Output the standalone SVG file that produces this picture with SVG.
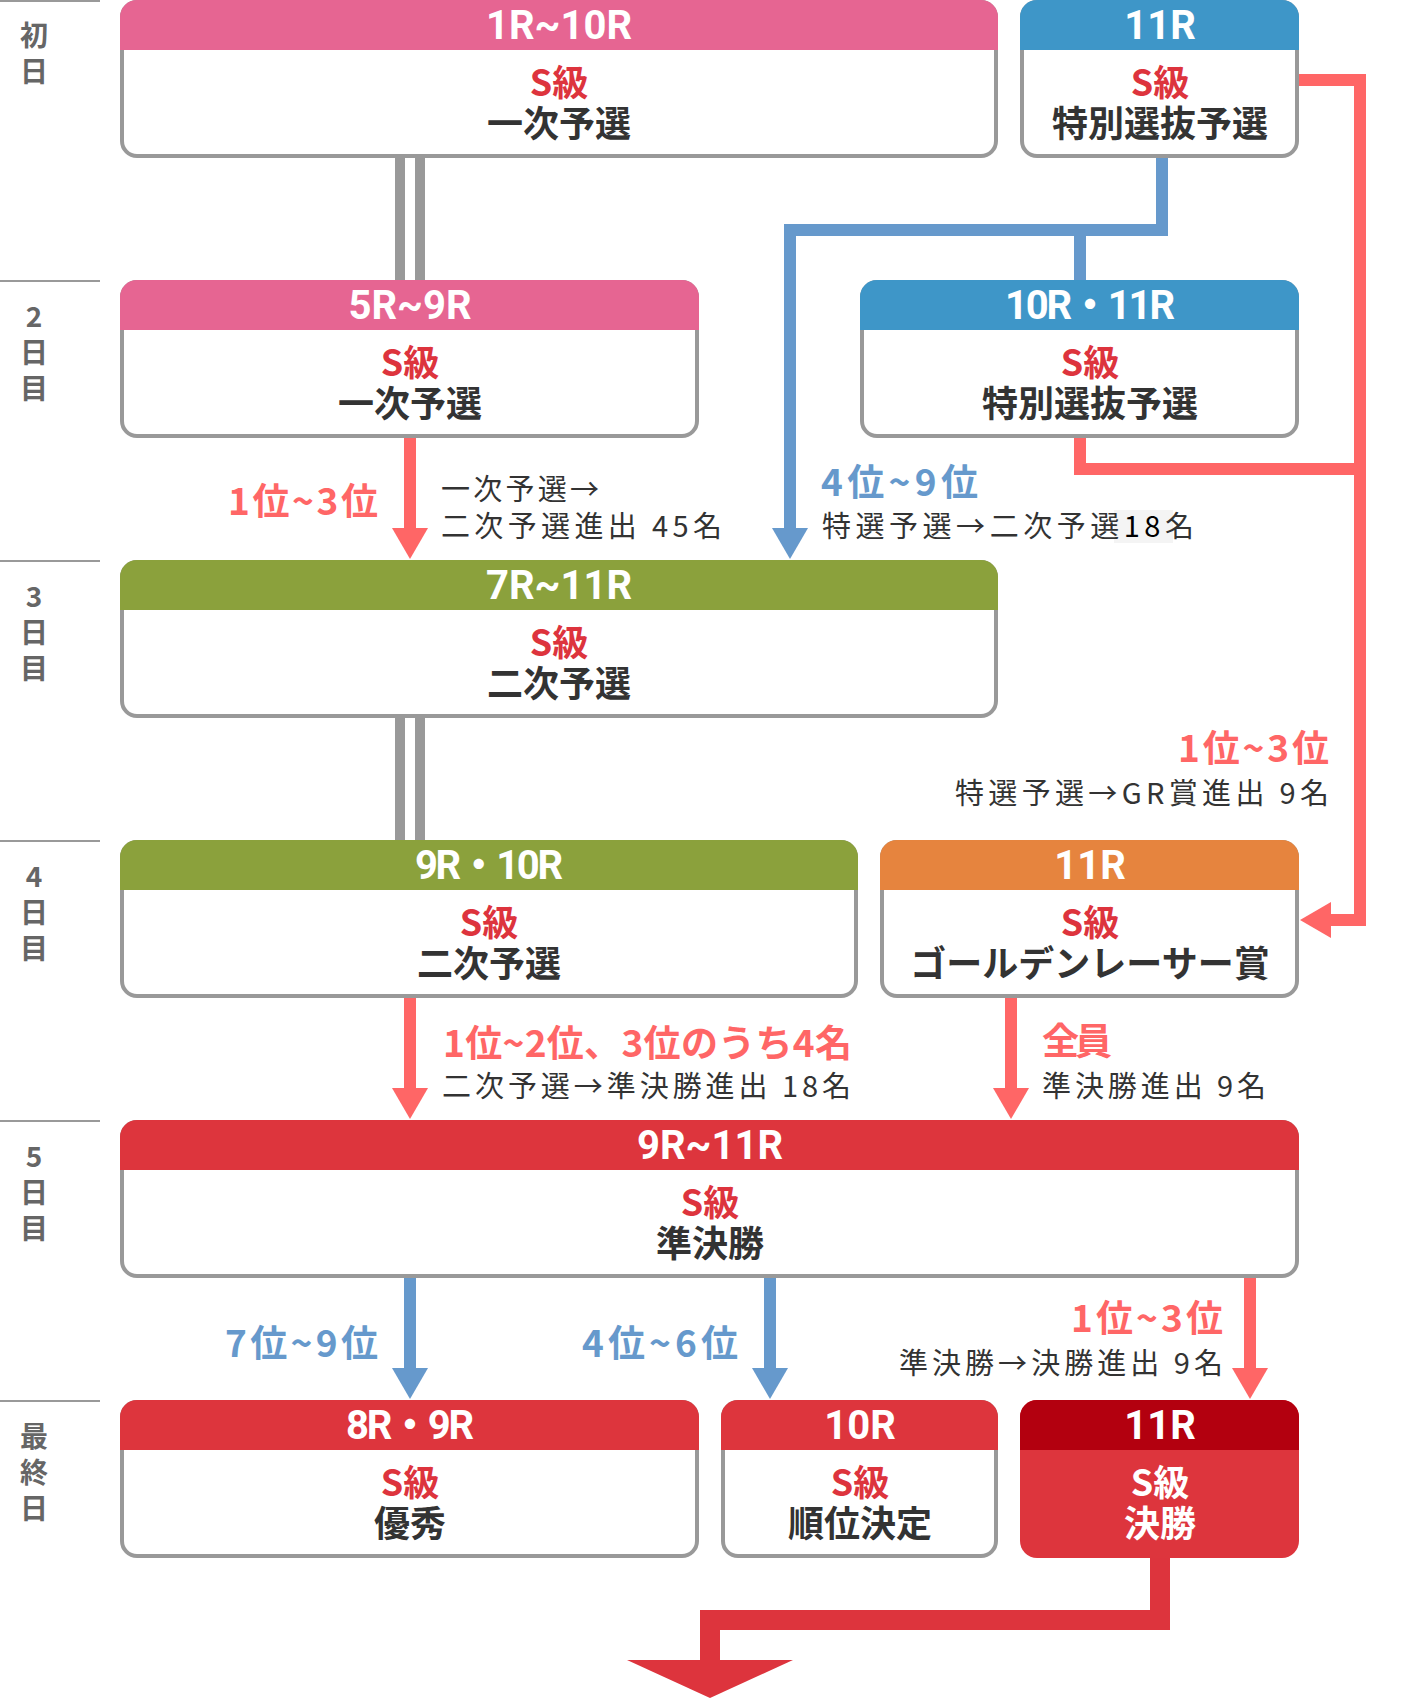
<svg xmlns="http://www.w3.org/2000/svg" width="1420" height="1700" viewBox="0 0 1420 1700">
<style>
.hdr{font-family:Roboto,"Noto Sans CJK JP",sans-serif;font-weight:700;font-size:40px;fill:#fff;text-anchor:middle}
.s{font-family:"Noto Sans CJK JP",sans-serif;font-weight:700;font-size:36px;fill:#DD343D;text-anchor:middle}
.nm{font-family:"Noto Sans CJK JP",sans-serif;font-weight:700;font-size:36px;fill:#333;text-anchor:middle}
.w{fill:#fff}
.day{font-family:"Noto Sans CJK JP",sans-serif;font-weight:700;font-size:28px;fill:#666;text-anchor:middle}
.lr{font-family:"Noto Sans CJK JP",sans-serif;font-weight:700;font-size:37px;fill:#FF6666}
.lb{font-family:"Noto Sans CJK JP",sans-serif;font-weight:700;font-size:37px;fill:#6699CC}
.t{font-family:"Noto Sans CJK JP",sans-serif;font-weight:400;font-size:29px;fill:#333}
.body{fill:#fff;stroke:#999;stroke-width:4}
.end{text-anchor:end}
.sep{stroke:#999;stroke-width:2}
</style>

<g id="days">
<line class="sep" x1="0" y1="1" x2="100" y2="1"/>
<line class="sep" x1="0" y1="281" x2="100" y2="281"/>
<line class="sep" x1="0" y1="561" x2="100" y2="561"/>
<line class="sep" x1="0" y1="841" x2="100" y2="841"/>
<line class="sep" x1="0" y1="1121" x2="100" y2="1121"/>
<line class="sep" x1="0" y1="1401" x2="100" y2="1401"/>
<text class="day" x="34" y="46">初</text><text class="day" x="34" y="82">日</text>
<text class="day" x="34" y="327">2</text><text class="day" x="34" y="363">日</text><text class="day" x="34" y="399">目</text>
<text class="day" x="34" y="607">3</text><text class="day" x="34" y="643">日</text><text class="day" x="34" y="679">目</text>
<text class="day" x="34" y="887">4</text><text class="day" x="34" y="923">日</text><text class="day" x="34" y="959">目</text>
<text class="day" x="34" y="1167">5</text><text class="day" x="34" y="1203">日</text><text class="day" x="34" y="1239">目</text>
<text class="day" x="34" y="1447">最</text><text class="day" x="34" y="1483">終</text><text class="day" x="34" y="1519">日</text>
</g>

<g id="connectors">
<rect x="395" y="156" width="10" height="126" fill="#999"/>
<rect x="415" y="156" width="10" height="126" fill="#999"/>
<rect x="395" y="716" width="10" height="126" fill="#999"/>
<rect x="415" y="716" width="10" height="126" fill="#999"/>
<g fill="none" stroke-width="12" stroke-linejoin="miter">
<path d="M1162,156 V230 H790 V532" stroke="#6699CC"/>
<path d="M1080,230 V282" stroke="#6699CC"/>
<path d="M1297,80 H1360 V920 H1328" stroke="#FF6666"/>
<path d="M1080,436 V469 H1360" stroke="#FF6666"/>
<path d="M410,436 V532" stroke="#FF6666"/>
<path d="M410,996 V1092" stroke="#FF6666"/>
<path d="M1011,996 V1092" stroke="#FF6666"/>
<path d="M410,1276 V1372" stroke="#6699CC"/>
<path d="M770,1276 V1372" stroke="#6699CC"/>
<path d="M1250,1276 V1372" stroke="#FF6666"/>
</g>
<polygon points="772,528 808,528 790,559" fill="#6699CC"/>
<polygon points="392,528 428,528 410,559" fill="#FF6666"/>
<polygon points="1331,902 1331,938 1300,920" fill="#FF6666"/>
<polygon points="392,1088 428,1088 410,1119" fill="#FF6666"/>
<polygon points="993,1088 1029,1088 1011,1119" fill="#FF6666"/>
<polygon points="392,1368 428,1368 410,1399" fill="#6699CC"/>
<polygon points="752,1368 788,1368 770,1399" fill="#6699CC"/>
<polygon points="1232,1368 1268,1368 1250,1399" fill="#FF6666"/>
<path d="M1160,1556 V1620 H710 V1662" fill="none" stroke="#DD343D" stroke-width="20"/>
<polygon points="627,1660 793,1660 710,1698" fill="#DD343D"/>
</g>

<g id="labels">
<text class="lr end" x="378" y="515" textLength="150" lengthAdjust="spacing">1位~3位</text>
<text class="t" x="441" y="500" textLength="158" lengthAdjust="spacing">一次予選→</text>
<text class="t" x="441" y="537" textLength="281" lengthAdjust="spacing">二次予選進出 45名</text>
<text class="lb" x="821" y="496" textLength="157" lengthAdjust="spacing">4位~9位</text>
<rect x="1114" y="510" width="59" height="33" fill="#F4F4F4"/>
<text class="t" x="822" y="537" textLength="372" lengthAdjust="spacing">特選予選→二次予選<tspan fill="#000">18</tspan>名</text>
<text class="lr end" x="1329" y="762" textLength="151" lengthAdjust="spacing">1位~3位</text>
<text class="t end" x="1329" y="804" textLength="374" lengthAdjust="spacing">特選予選→GR賞進出 9名</text>
<text class="lr" x="443" y="1057" textLength="409" lengthAdjust="spacing">1位~2位、3位のうち4名</text>
<text class="t" x="442" y="1097" textLength="409" lengthAdjust="spacing">二次予選→準決勝進出 18名</text>
<text class="lr" x="1042" y="1055" textLength="70" lengthAdjust="spacing">全員</text>
<text class="t" x="1042" y="1097" textLength="224" lengthAdjust="spacing">準決勝進出 9名</text>
<text class="lb end" x="378" y="1357" textLength="153" lengthAdjust="spacing">7位~9位</text>
<text class="lb end" x="738" y="1357" textLength="156" lengthAdjust="spacing">4位~6位</text>
<text class="lr end" x="1223" y="1332" textLength="152" lengthAdjust="spacing">1位~3位</text>
<text class="t end" x="1223" y="1374" textLength="324" lengthAdjust="spacing">準決勝→決勝進出 9名</text>
</g>

<g id="n1">
<rect class="body" x="122" y="2" width="874" height="154" rx="15"/>
<path d="M120,50 V17 A17,17 0 0 1 137,0 H981 A17,17 0 0 1 998,17 V50 Z" fill="#E66592"/>
<text class="hdr" x="559" y="39">1R~10R</text>
<text class="s" x="559" y="96">S級</text>
<text class="nm" x="559" y="137">一次予選</text>
</g>
<g id="n2">
<rect class="body" x="1022" y="2" width="275" height="154" rx="15"/>
<path d="M1020,50 V17 A17,17 0 0 1 1037,0 H1282 A17,17 0 0 1 1299,17 V50 Z" fill="#3E96C8"/>
<text class="hdr" x="1160" y="39">11R</text>
<text class="s" x="1160" y="96">S級</text>
<text class="nm" x="1160" y="137">特別選抜予選</text>
</g>
<g id="n3">
<rect class="body" x="122" y="282" width="575" height="154" rx="15"/>
<path d="M120,330 V297 A17,17 0 0 1 137,280 H682 A17,17 0 0 1 699,297 V330 Z" fill="#E66592"/>
<text class="hdr" x="410" y="319">5R~9R</text>
<text class="s" x="410" y="376">S級</text>
<text class="nm" x="410" y="417">一次予選</text>
</g>
<g id="n4">
<rect class="body" x="862" y="282" width="435" height="154" rx="15"/>
<path d="M860,330 V297 A17,17 0 0 1 877,280 H1282 A17,17 0 0 1 1299,297 V330 Z" fill="#3E96C8"/>
<text class="hdr" x="1090" y="319" textLength="170" lengthAdjust="spacing">10R・11R</text>
<text class="s" x="1090" y="376">S級</text>
<text class="nm" x="1090" y="417">特別選抜予選</text>
</g>
<g id="n5">
<rect class="body" x="122" y="562" width="874" height="154" rx="15"/>
<path d="M120,610 V577 A17,17 0 0 1 137,560 H981 A17,17 0 0 1 998,577 V610 Z" fill="#8BA13C"/>
<text class="hdr" x="559" y="599">7R~11R</text>
<text class="s" x="559" y="656">S級</text>
<text class="nm" x="559" y="697">二次予選</text>
</g>
<g id="n6">
<rect class="body" x="122" y="842" width="734" height="154" rx="15"/>
<path d="M120,890 V857 A17,17 0 0 1 137,840 H841 A17,17 0 0 1 858,857 V890 Z" fill="#8BA13C"/>
<text class="hdr" x="489" y="879" textLength="148" lengthAdjust="spacing">9R・10R</text>
<text class="s" x="489" y="936">S級</text>
<text class="nm" x="489" y="977">二次予選</text>
</g>
<g id="n7">
<rect class="body" x="882" y="842" width="415" height="154" rx="15"/>
<path d="M880,890 V857 A17,17 0 0 1 897,840 H1282 A17,17 0 0 1 1299,857 V890 Z" fill="#E6843E"/>
<text class="hdr" x="1090" y="879">11R</text>
<text class="s" x="1090" y="936">S級</text>
<text class="nm" x="1090" y="977">ゴールデンレーサー賞</text>
</g>
<g id="n8">
<rect class="body" x="122" y="1122" width="1175" height="154" rx="15"/>
<path d="M120,1170 V1137 A17,17 0 0 1 137,1120 H1282 A17,17 0 0 1 1299,1137 V1170 Z" fill="#DD353D"/>
<text class="hdr" x="710" y="1159">9R~11R</text>
<text class="s" x="710" y="1216">S級</text>
<text class="nm" x="710" y="1257">準決勝</text>
</g>
<g id="n9">
<rect class="body" x="122" y="1402" width="575" height="154" rx="15"/>
<path d="M120,1450 V1417 A17,17 0 0 1 137,1400 H682 A17,17 0 0 1 699,1417 V1450 Z" fill="#DD353D"/>
<text class="hdr" x="410" y="1439" textLength="128" lengthAdjust="spacing">8R・9R</text>
<text class="s" x="410" y="1496">S級</text>
<text class="nm" x="410" y="1537">優秀</text>
</g>
<g id="n10">
<rect class="body" x="723" y="1402" width="273" height="154" rx="15"/>
<path d="M721,1450 V1417 A17,17 0 0 1 738,1400 H981 A17,17 0 0 1 998,1417 V1450 Z" fill="#DD353D"/>
<text class="hdr" x="860" y="1439">10R</text>
<text class="s" x="860" y="1496">S級</text>
<text class="nm" x="860" y="1537">順位決定</text>
</g>
<g id="n11">
<rect x="1020" y="1400" width="279" height="158" rx="17" fill="#DD353D"/>
<path d="M1020,1450 V1417 A17,17 0 0 1 1037,1400 H1282 A17,17 0 0 1 1299,1417 V1450 Z" fill="#B3000F"/>
<text class="hdr" x="1160" y="1439">11R</text>
<text class="s w" x="1160" y="1496">S級</text>
<text class="nm w" x="1160" y="1537">決勝</text>
</g>
</svg>
